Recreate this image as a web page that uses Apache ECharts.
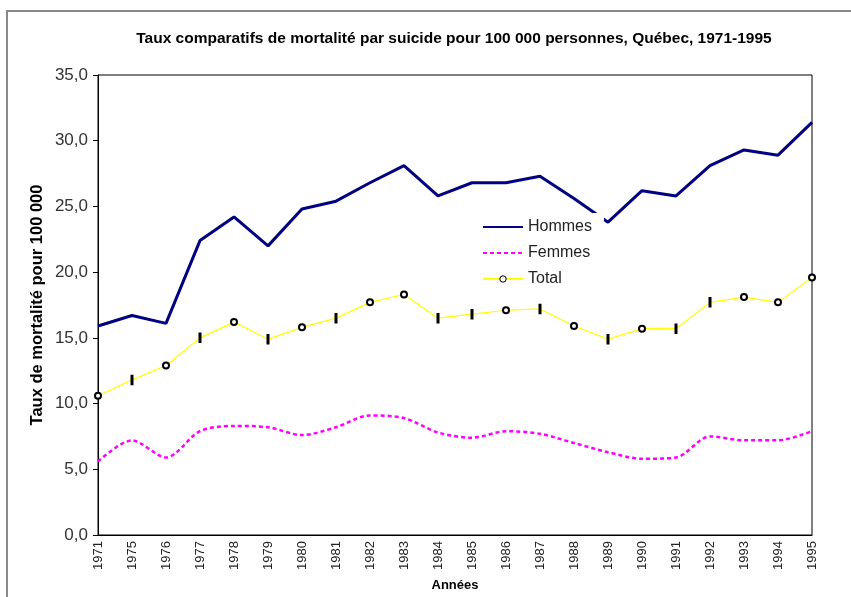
<!DOCTYPE html>
<html>
<head>
<meta charset="utf-8">
<script src="https://cdn.jsdelivr.net/npm/echarts@6/dist/echarts.min.js"></script>
<style>
html,body{margin:0;padding:0;background:#fff;}
#chart{width:851px;height:597px;}
</style>
</head>
<body>
<div id="chart"></div>
<script>
const years = ['1971','1975','1976','1977','1978','1979','1980','1981','1982','1983','1984','1985','1986','1987','1988','1989','1990','1991','1992','1993','1994','1995'];
const hommes = [15.9,16.7,16.1,22.4,24.2,22.0,24.8,25.4,26.8,28.1,25.8,26.8,26.8,27.3,25.6,23.8,26.2,25.8,28.1,29.3,28.9,31.4];
const femmes = [5.6,7.2,5.9,7.9,8.3,8.2,7.6,8.2,9.1,8.9,7.8,7.4,7.9,7.7,7.0,6.3,5.8,5.9,7.5,7.2,7.2,7.9];
const total  = [10.6,11.8,12.9,15.0,16.2,14.9,15.8,16.5,17.7,18.3,16.5,16.8,17.1,17.2,15.9,14.9,15.7,15.7,17.7,18.1,17.7,19.6];
const yTicks = {min:0, max:35, interval:5};

const barMarkerIdx = [1,3,5,7,10,11,13,15,17,18];

const chart = echarts.init(document.getElementById('chart'), null, {renderer:'canvas'});
const font = '"Liberation Sans", Arial, sans-serif';
chart.setOption({
  animation:false,
  backgroundColor:'#fff',
  title:{
    text:'Taux comparatifs de mortalité par suicide pour 100 000 personnes, Québec, 1971-1995',
    left:449, top:26, textAlign:'center',
    textStyle:{fontFamily:'"Liberation Sans Narrow", '+font, fontWeight:'bold', fontSize:15.5, color:'#000'}
  },
  graphic:[{type:'rect', shape:{x:7,y:11,width:900,height:700}, style:{fill:'none', stroke:'#888', lineWidth:2}, silent:true}],
  legend:{
    orient:'vertical', left:478, top:213, itemWidth:40, itemHeight:8, itemGap:10,
    backgroundColor:'#fff', padding:[6,12,6,4],
    textStyle:{fontFamily:font, fontSize:16, color:'#222'},
    data:[
      {name:'Hommes', itemStyle:{opacity:0}},
      {name:'Femmes', itemStyle:{opacity:0}},
      {name:'Total', itemStyle:{color:'#fff', borderColor:'#000', borderWidth:1}}
    ]
  },
  grid:{left:98, right:39, top:75, bottom:61, show:true, borderColor:'#000', borderWidth:1},
  xAxis:{
    type:'category', data:years, boundaryGap:false,
    name:'Années', nameLocation:'middle', nameGap:44,
    nameTextStyle:{fontFamily:'"Liberation Sans Narrow", '+font, fontWeight:'bold', fontSize:13, color:'#000'},
    axisLine:{lineStyle:{color:'#000', width:1}},
    axisTick:{show:false},
    axisLabel:{rotate:90, interval:0, fontFamily:font, fontSize:13, color:'#222', margin:6}
  },
  yAxis:{
    type:'value', min:yTicks.min, max:yTicks.max, interval:yTicks.interval,
    name:'Taux de mortalité pour 100 000', nameLocation:'middle', nameGap:52, nameRotate:90, nameMoveOverlap:false,
    nameTextStyle:{fontFamily:'"Liberation Sans Narrow", '+font, fontWeight:'bold', fontSize:16.5, color:'#000'},
    axisLine:{show:true, lineStyle:{color:'#000', width:1}},
    axisTick:{show:true, inside:false, length:5, lineStyle:{color:'#000'}},
    splitLine:{show:false},
    axisLabel:{fontFamily:font, fontSize:17, color:'#333', margin:10, formatter:v=>v.toFixed(1).replace('.',',')}
  },
  series:[
    {name:'Hommes', type:'line', data:hommes, symbol:'none', lineStyle:{color:'#000080', width:3}, itemStyle:{color:'#000080'}, z:3},
    {name:'Femmes', type:'line', data:femmes, symbol:'none', smooth:0.3, lineStyle:{color:'#ff00ff', width:2.5, type:[4,3]}, itemStyle:{color:'#ff00ff'}, z:2},
    {name:'Total', type:'line', data:total,
      symbol:(v,p)=> (p && barMarkerIdx.includes(p.dataIndex)) ? 'rect' : 'emptyCircle',
      symbolSize:(v,p)=> (p && barMarkerIdx.includes(p.dataIndex)) ? [2,7] : 6,
      lineStyle:{color:'#ffff00', width:1.2},
      itemStyle:{color:'#000', borderColor:'#000', borderWidth:1}, z:4}
  ]
});
</script>
</body>
</html>
